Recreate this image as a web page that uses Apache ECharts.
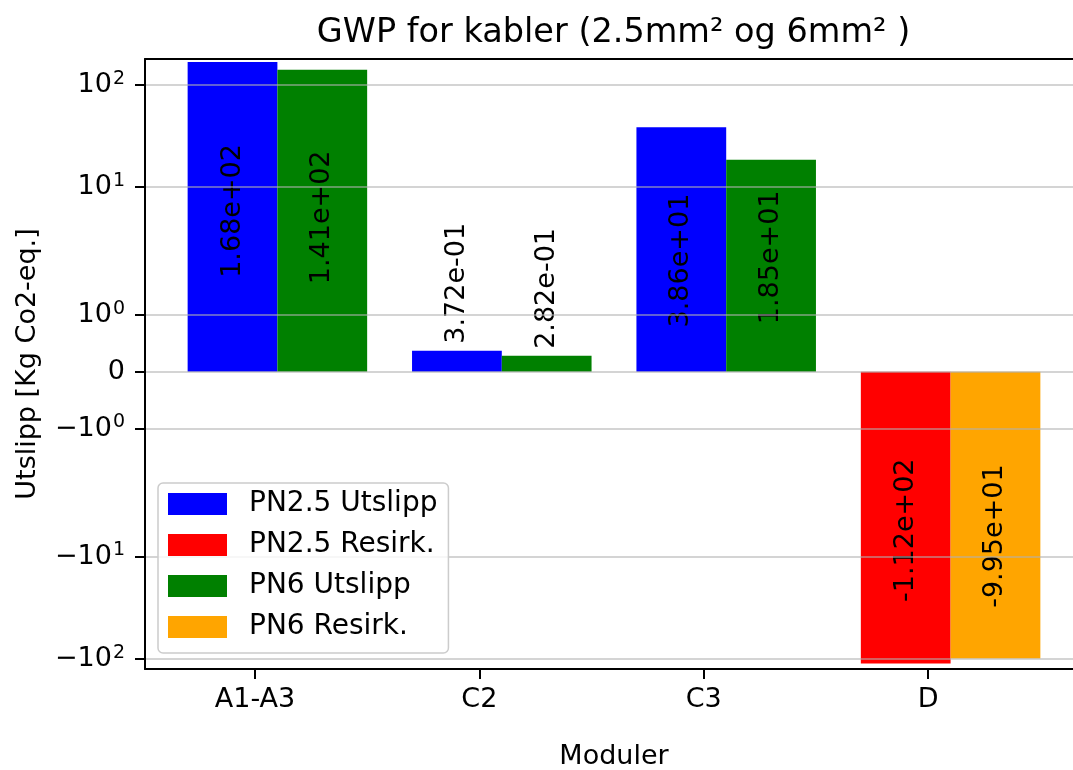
<!DOCTYPE html>
<html><head><meta charset="utf-8">
<script src="https://cdn.jsdelivr.net/npm/echarts@6.0.0/dist/echarts.min.js"></script>
<style>html,body{margin:0;padding:0;background:#fff;overflow:hidden}#c{width:1073px;height:770px}</style>
</head><body><div id="c"></div>
<script>
// ---------- data ----------
const categories = ['A1-A3', 'C2', 'C3', 'D'];
const pn25Utslipp = [168, 0.372, 38.6, 0];
const pn25Resirk  = [0, 0, 0, -112];
const pn6Utslipp  = [141, 0.282, 18.5, 0];
const pn6Resirk   = [0, 0, 0, -99.5];
const yTickValues = [100, 10, 1, 0, -1, -10, -100];
const titleText = 'GWP for kabler (2.5mm² og 6mm² )';
const xName = 'Moduler';
const yName = 'Utslipp [Kg Co2-eq.]';

// ---------- symlog scale (linthresh 2, base 10, linscale 1) ----------
const LT = 2, LS = 1 / (1 - 1 / 10);
function symlog(v) {
  const a = Math.abs(v);
  if (a <= LT) return v * LS;
  return Math.sign(v) * LT * (LS + Math.log10(a / LT));
}
function sci(v) {
  return v.toExponential(2).replace(/e([+-])(\d)$/, 'e$10$2');
}
function tickLabel(v) {
  if (v === 0) return '{b|0}';
  const e = Math.round(Math.log10(Math.abs(v)));
  return '{b|' + (v < 0 ? '\u2212' : '') + '10}{s|' + e + '}';
}

const FONT = 'DejaVu Sans';
const Y_MIN = -5.824, Y_MAX = 6.131;
const UNIT = 224.4;
const GRID_LEFT = 145, GRID_TOP = 59, GRID_H = 610;
const X_MIN = -0.49, X_MAX = 3.69;

const tickT = yTickValues.map(symlog);

const seriesDefs = [
  { name: 'PN2.5 Utslipp', data: pn25Utslipp, color: '#0000ff', stack: 'pn25' },
  { name: 'PN2.5 Resirk.', data: pn25Resirk,  color: '#ff0000', stack: 'pn25' },
  { name: 'PN6 Utslipp',   data: pn6Utslipp,  color: '#008000', stack: 'pn6' },
  { name: 'PN6 Resirk.',   data: pn6Resirk,   color: '#ffa500', stack: 'pn6' }
];
// label nudges along the bar (px, positive = down)
const labelNudge = { '0-0': -6, '0-2': 11, '1-3': 12.5, '2-0': -3.5, '2-2': -8.5, '3-3': 21 };

const series = seriesDefs.map((d, si) => ({
  type: 'bar',
  name: d.name,
  xAxisIndex: 1,
  yAxisIndex: 1,
  stack: d.stack,
  barWidth: '40%',
  barGap: '0%',
  itemStyle: { color: d.color },
  label: {
    show: true, position: 'inside', rotate: 90,
    fontFamily: FONT, fontSize: 27, color: '#000',
    formatter: p => sci(p.data.raw)
  },
  data: d.data.map((v, i) => {
    if (v === 0) return '-';
    const item = { value: symlog(v), raw: v };
    if (Math.abs(v) < 1) {
      item.label = { position: 'top', align: 'left', verticalAlign: 'middle', distance: 7 };
    } else {
      const n = labelNudge[si + '-' + i] || 0;
      item.label = { offset: [-n, 0] };
    }
    return item;
  })
}));

const chart = echarts.init(document.getElementById('c'), null, { renderer: 'canvas' });
chart.setOption({
  backgroundColor: '#ffffff',
  animation: false,
  textStyle: { fontFamily: FONT },
  graphic: [{
    type: 'text', x: 613.5, y: 33, z: 30,
    style: { text: titleText, fontFamily: FONT, fontSize: 33.5, fill: '#000',
      align: 'center', verticalAlign: 'middle' }
  }],
  legend: {
    orient: 'vertical', left: 158, top: 483,
    padding: [6, 11, 11, 10],
    itemWidth: 59, itemHeight: 22, itemGap: 11,
    icon: 'rect',
    backgroundColor: 'rgba(255,255,255,0.8)',
    borderColor: '#cccccc', borderWidth: 1.5, borderRadius: 5,
    textStyle: { fontFamily: FONT, fontSize: 28, lineHeight: 30, color: '#000', padding: [0, 0, 0, 17] },
    z: 20
  },
  grid: [
    { left: GRID_LEFT, top: GRID_TOP, width: (X_MAX - X_MIN) * UNIT, height: GRID_H,
      show: false, outerBoundsMode: 'none', containLabel: false },
    { left: GRID_LEFT + (-0.4 - X_MIN) * UNIT, top: GRID_TOP, width: 4 * UNIT, height: GRID_H,
      show: false, outerBoundsMode: 'none', containLabel: false }
  ],
  xAxis: [
    { type: 'value', gridIndex: 0, min: X_MIN, max: X_MAX, z: 10,
      name: xName, nameLocation: 'middle', nameGap: 74,
      nameTextStyle: { fontFamily: FONT, fontSize: 27, color: '#000' },
      axisLine: { show: true, onZero: false, lineStyle: { color: '#000', width: 2 } },
      axisTick: { show: true, length: 10, lineStyle: { color: '#000', width: 2 }, customValues: [0, 1, 2, 3] },
      axisLabel: { show: true, margin: 17, fontFamily: FONT, fontSize: 27, lineHeight: 27, color: '#000',
        customValues: [0, 1, 2, 3], formatter: v => categories[Math.round(v)] },
      splitLine: { show: false }
    },
    { type: 'category', gridIndex: 1, data: categories, show: false,
      axisTick: { show: false }, axisLabel: { show: false }, axisLine: { show: false }, splitLine: { show: false } },
    { type: 'value', gridIndex: 0, position: 'top', min: X_MIN, max: X_MAX, z: 10,
      axisLine: { show: true, onZero: false, lineStyle: { color: '#000', width: 2 } },
      axisTick: { show: false }, axisLabel: { show: false }, splitLine: { show: false } }
  ],
  yAxis: [
    { type: 'value', gridIndex: 0, min: Y_MIN, max: Y_MAX, z: 10,
      name: yName, nameLocation: 'middle', nameGap: 104, nameRotate: 90,
      nameTextStyle: { fontFamily: FONT, fontSize: 27, color: '#000' },
      axisLine: { show: true, onZero: false, lineStyle: { color: '#000', width: 2 } },
      axisTick: { show: true, length: 10, lineStyle: { color: '#000', width: 2 }, customValues: tickT },
      axisLabel: {
        show: true, margin: 20, color: '#000', customValues: tickT,
        formatter: v => {
          let best = 0, bd = Infinity;
          tickT.forEach((t, k) => { const dd = Math.abs(t - v); if (dd < bd) { bd = dd; best = k; } });
          return tickLabel(yTickValues[best]);
        },
        rich: {
          b: { fontFamily: FONT, fontSize: 27, color: '#000', lineHeight: 27 },
          s: { fontFamily: FONT, fontSize: 19, color: '#000', lineHeight: 19, padding: [0, 0, 12, 1] }
        }
      },
      splitLine: { show: true, lineStyle: { color: 'rgba(176,176,176,0.55)', width: 2 } }
    },
    { type: 'value', gridIndex: 1, min: Y_MIN, max: Y_MAX, show: false,
      splitLine: { show: false }, axisLabel: { show: false }, axisTick: { show: false }, axisLine: { show: false } }
  ],
  series: series
});
</script>
</body></html>
